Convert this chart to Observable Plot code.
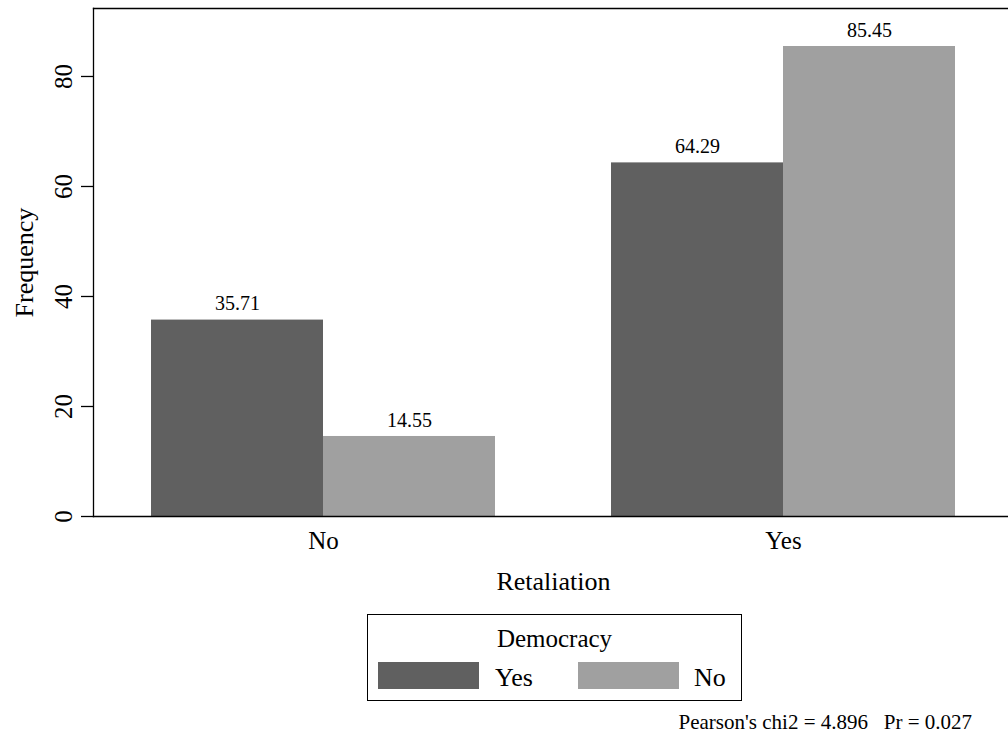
<!DOCTYPE html>
<html><head><meta charset="utf-8">
<script src="https://cdn.jsdelivr.net/npm/d3@7"></script>
<script src="https://cdn.jsdelivr.net/npm/@observablehq/plot@0.6"></script>
<style>
body{margin:0;background:#fff;font-family:"Liberation Serif",serif;}
#wrap{position:relative;width:1008px;height:733px;overflow:hidden;background:#fff;}
#chart{position:absolute;left:0;top:0;}
#chart svg{font-family:"Liberation Serif",serif !important;}
#legend{position:absolute;left:367px;top:614px;width:375px;height:87px;box-sizing:border-box;border:1px solid #000;}
#legend .title{position:absolute;left:0;right:0;top:11px;text-align:center;font-size:25px;line-height:25px;}
#legend .sw{position:absolute;top:47px;width:101px;height:27px;}
#legend .lab{position:absolute;top:50px;font-size:26px;line-height:26px;}
#note{position:absolute;right:36px;top:712px;font-size:21px;line-height:21px;white-space:pre;}
</style></head><body><div id="wrap"><div id="chart"></div>
<div id="legend"></div><div id="note"></div></div>
<script>
const retaliation = ["No", "Yes"];
const democracy = ["Yes", "No"];
const freqDemocracyYes = [35.71, 64.29];
const freqDemocracyNo = [14.55, 85.45];
const yTicks = [0, 20, 40, 60, 80];
const yMax = 92.36;
const colors = ["#606060", "#a0a0a0"];
const yTitle = "Frequency";
const xTitle = "Retaliation";
const legendTitle = "Democracy";
const noteText = "Pearson's chi2 = 4.896   Pr = 0.027";

const data = retaliation.flatMap((r, i) => [
  {retaliation: r, democracy: democracy[0], value: freqDemocracyYes[i]},
  {retaliation: r, democracy: democracy[1], value: freqDemocracyNo[i]}
]);

const serif = "Liberation Serif";
const chart = Plot.plot({
  width: 1008, height: 600,
  marginLeft: 93, marginRight: -5, marginTop: 8, marginBottom: 84,
  style: {fontFamily: serif, fontSize: "25px", background: "white", color: "#000"},
  fx: {domain: retaliation, padding: 0, label: null},
  x: {domain: democracy, paddingInner: 0, paddingOuter: 0.336, axis: null},
  y: {domain: [0, yMax], label: null},
  color: {domain: democracy, range: colors},
  marks: [
    Plot.barY(data, {fx: "retaliation", x: "democracy", y: "value", fill: "democracy", inset: 0}),
    Plot.text(data, {fx: "retaliation", x: "democracy", y: "value", text: d => d.value.toFixed(2), dy: -16, fontSize: 20, fontFamily: serif, lineAnchor: "middle", fill: "#000"}),
    Plot.axisY({ticks: yTicks, tickSize: 12, tickPadding: 10, tickRotate: -90, label: null, fontSize: 25, fontFamily: serif, stroke: "#000", strokeWidth: 1.3}),
    Plot.axisFx({anchor: "bottom", tickSize: 0, tickPadding: 15, label: null, fontSize: 25, fontFamily: serif}),
    Plot.frame({facet: "super", anchor: "top", stroke: "#000", strokeWidth: 1.3}),
    Plot.frame({facet: "super", anchor: "left", stroke: "#000", strokeWidth: 1.3}),
    Plot.frame({facet: "super", anchor: "bottom", stroke: "#000", strokeWidth: 1.3}),
    Plot.text([yTitle], {facet: "super", text: d => d, frameAnchor: "left", rotate: -90, dx: -69, fontSize: 26, fontFamily: serif, textAnchor: "middle", lineAnchor: "middle"}),
    Plot.text([xTitle], {facet: "super", text: d => d, frameAnchor: "bottom", dy: 65, fontSize: 26, fontFamily: serif, textAnchor: "middle", lineAnchor: "middle"})
  ]
});
document.getElementById("chart").appendChild(chart);

const legend = document.getElementById("legend");
const t = document.createElement("div");
t.className = "title"; t.textContent = legendTitle; legend.appendChild(t);
const swLeft = [10, 210], labLeft = [127, 326];
democracy.forEach((d, i) => {
  const s = document.createElement("div");
  s.className = "sw"; s.style.left = swLeft[i] + "px"; s.style.background = colors[i];
  legend.appendChild(s);
  const l = document.createElement("div");
  l.className = "lab"; l.style.left = labLeft[i] + "px"; l.textContent = d;
  legend.appendChild(l);
});
document.getElementById("note").textContent = noteText;
</script></body></html>
